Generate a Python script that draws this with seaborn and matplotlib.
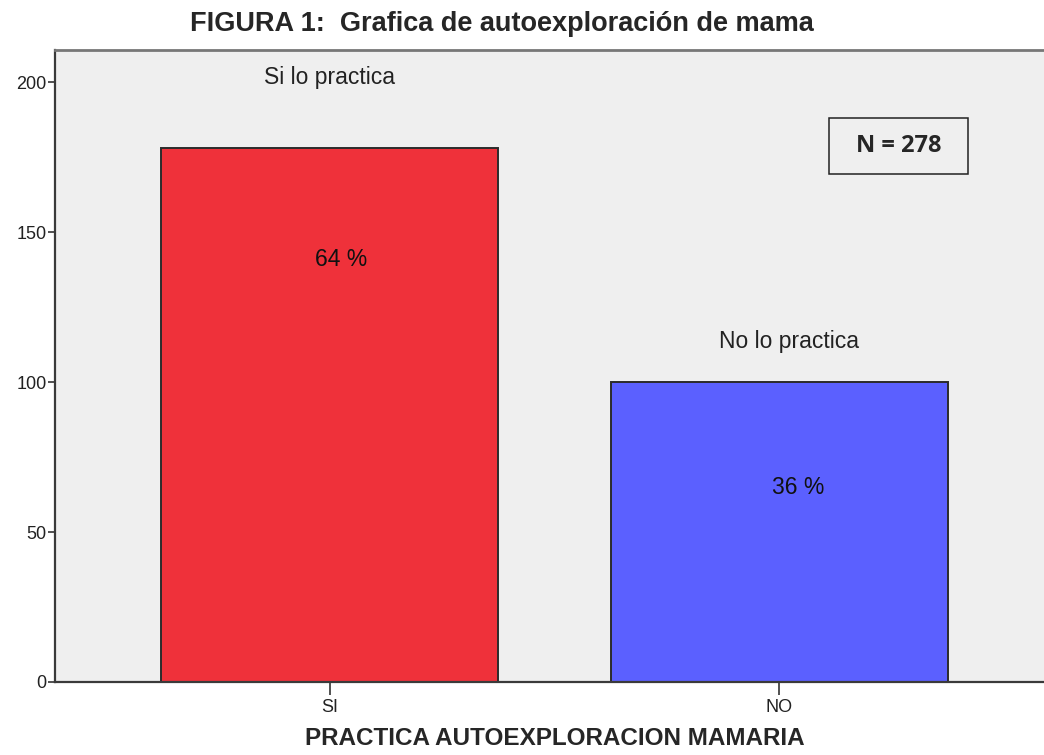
import pandas as pd
import seaborn as sns
import matplotlib.pyplot as plt
from matplotlib.patches import Rectangle

# datos
categorias = ['SI', 'NO']
frecuencias = [178, 100]
porcentajes = ['64 %', '36 %']
etiquetas = ['Si lo practica', 'No lo practica']
colores = ['#EF313A', '#5B60FF']
total = sum(frecuencias)

df = pd.DataFrame({'practica': categorias, 'n': frecuencias})

sns.set_style('white')
plt.rcParams['font.family'] = ['Liberation Sans', 'DejaVu Sans']

fig = plt.figure(figsize=(10.44, 7.55), dpi=100)
ax = fig.add_axes([0.0527, 0.0967, 0.957, 0.837])
ax.set_facecolor('#EFEFEF')

sns.barplot(data=df, x='practica', y='n', hue='practica', palette=colores,
            order=categorias, width=0.75, edgecolor='#2b2b2b', linewidth=1.4,
            saturation=1, legend=False, ax=ax)

ax.set_xlim(-0.612, 1.612)
ax.set_ylim(0, 210.7)
ax.set_yticks([0, 50, 100, 150, 200])

# textos sobre las barras
for i, (v, pct, lab) in enumerate(zip(frecuencias, porcentajes, etiquetas)):
    ax.text(i + (0 if i == 0 else 0.022), v + (23.5 if i == 0 else 13.5), lab,
            ha='center', va='center', fontsize=16.5, color='#222222')
    ax.text(i + (0.025 if i == 0 else 0.043), v - (37 if i == 0 else 35), pct,
            ha='center', va='center', fontsize=16.5, color='#111111')

# recuadro N
ax.add_patch(Rectangle((1.111, 169.3), 0.31, 18.7, facecolor='none',
                       edgecolor='#222222', linewidth=1.1, zorder=5))
ax.text(1.266, 178.6, f'N = {total}', ha='center', va='center', fontsize=17,
        fontweight='bold', family=['Open Sans', 'DejaVu Sans'], zorder=6)

ax.set_title('FIGURA 1:  Grafica de autoexploración de mama', fontsize=19.5,
             fontweight='bold', pad=14, x=0.447)
ax.set_xlabel('PRACTICA AUTOEXPLORACION MAMARIA', fontsize=17.5,
              fontweight='bold', labelpad=8)
ax.set_ylabel('')

ax.tick_params(axis='y', length=5, width=1.2, color='#333333', labelsize=13,
               labelcolor='#222222', left=True, pad=1)
ax.tick_params(axis='x', length=9, width=1.2, color='#333333', labelsize=13,
               labelcolor='#222222', bottom=True, pad=3)

for s in ['left', 'bottom']:
    ax.spines[s].set_color('#3a3a3a')
    ax.spines[s].set_linewidth(1.6)
ax.spines['top'].set_color('#777777')
ax.spines['top'].set_linewidth(2)
ax.spines['right'].set_visible(False)

fig.savefig('out.png', dpi=100)
